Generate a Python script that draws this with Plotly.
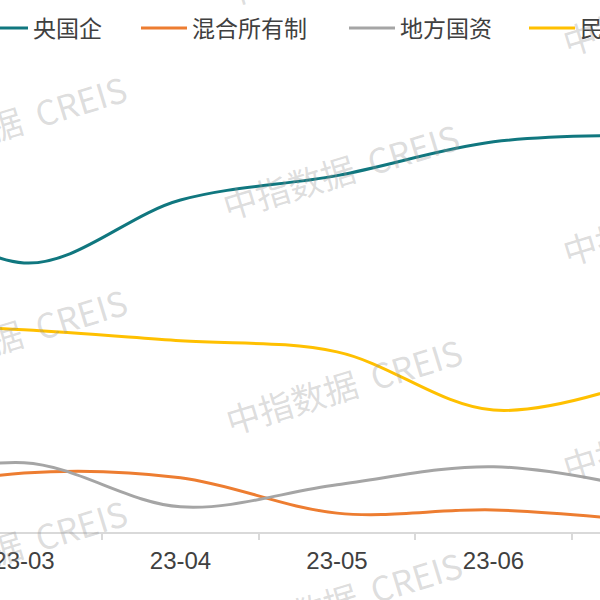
"""Land acquisition share by enterprise type (cropped view)."""

import plotly.graph_objects as go

# data
months = ["23-02", "23-03", "23-04", "23-05", "23-06", "23-07"]
central_soe = [45.4, 34.2, 42.2, 45.3, 49.6, 50.4]
mixed_owner = [4.1, 7.5, 6.9, 2.4, 2.8, 1.3]
local_state = [5.3, 8.8, 3.2, 6.0, 8.3, 5.3]
private_firm = [26.7, 25.7, 24.3, 22.9, 15.5, 19.6]

series_names = ["央国企", "混合所有制", "地方国资", "民企"]
series_values = [central_soe, mixed_owner, local_state, private_firm]
series_colors = ["#10777f", "#ed7d31", "#a5a5a5", "#ffc000"]

# layout constants (pixels)
W, H = 600, 600
TOP, BOTTOM = 60, 532
PLOT_H = BOTTOM - TOP
ITEM_W = 46
legend_left_px = [-23, 136, 344, 524]
legend_mid_px = 28

watermark_px = [
    (8, -88), (8, 123), (8, 335), (8, 546),
    (340, -42), (340, 170), (343, 385), (343, 598),
    (680, 6), (680, 216), (680, 431),
]


def px_to_paper_y(py):
    return (BOTTOM - py) / PLOT_H


fig = go.Figure()
for i, (name, values, color) in enumerate(zip(series_names, series_values, series_colors)):
    fig.add_trace(
        go.Scatter(
            x=months,
            y=values,
            name=name,
            mode="lines",
            line=dict(color=color, width=3, shape="spline"),
            legend="legend" if i == 0 else f"legend{i + 1}",
        )
    )

legends = {}
for i, left in enumerate(legend_left_px):
    key = "legend" if i == 0 else f"legend{i + 1}"
    legends[key] = dict(
        orientation="h",
        x=left / W,
        xanchor="left",
        y=px_to_paper_y(legend_mid_px),
        yanchor="middle",
        itemwidth=ITEM_W,
        bgcolor="rgba(0,0,0,0)",
        font=dict(family="Noto Sans CJK SC", size=23, color="#404040"),
    )

annotations = [
    dict(
        text="中指数据  CREIS",
        x=px / W,
        y=px_to_paper_y(py),
        xref="paper",
        yref="paper",
        xanchor="center",
        yanchor="middle",
        showarrow=False,
        textangle=-17,
        font=dict(family="Noto Sans CJK SC", size=34, color="rgba(150,150,150,0.32)"),
    )
    for px, py in watermark_px
]

fig.update_layout(
    width=W,
    height=H,
    margin=dict(l=0, r=0, t=TOP, b=H - BOTTOM, autoexpand=False),
    paper_bgcolor="white",
    plot_bgcolor="white",
    showlegend=True,
    annotations=annotations,
    **legends,
)
fig.update_xaxes(
    type="category",
    range=[1 - 24 / 156.5, 1 + 576 / 156.5],
    showline=True,
    linecolor="#d9d9d9",
    linewidth=2,
    ticks="outside",
    tickson="boundaries",
    ticklen=6,
    tickcolor="#d9d9d9",
    tickwidth=2,
    showgrid=False,
    ticklabelstandoff=6,
    tickfont=dict(family="Liberation Sans, Arial", size=24, color="#404040"),
)
fig.update_yaxes(range=[0, 60], visible=False, showgrid=False, zeroline=False)

# drop the browser's default body margin so the figure sits at the window corner
fig.write_html(
    "out.html",
    config={"displayModeBar": False},
    post_script="document.body.style.margin='0';document.body.style.overflow='hidden';",
)
